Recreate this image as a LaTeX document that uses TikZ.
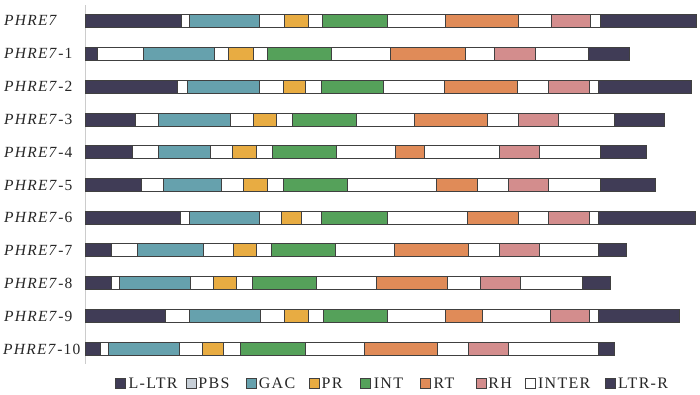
\documentclass[tikz,border=0pt]{standalone}
\usepackage{fontspec}
\setmainfont{Liberation Serif}[LetterSpace=8]
\usepackage{tikz}
\usetikzlibrary{positioning}
\definecolor{ltrcol}{HTML}{403C56}
\definecolor{pbscol}{HTML}{C8D0D8}
\definecolor{gaccol}{HTML}{66A1AD}
\definecolor{prcol}{HTML}{E8AC42}
\definecolor{intcol}{HTML}{55A15A}
\definecolor{rtcol}{HTML}{E08B58}
\definecolor{rhcol}{HTML}{D38D8D}
\tikzstyle{bar} = [draw=black!75, line width=0.8pt, fill=white]
\tikzstyle{ltr} = [bar, fill=ltrcol]
\tikzstyle{gac} = [bar, fill=gaccol]
\tikzstyle{pr} = [bar, fill=prcol]
\tikzstyle{int} = [bar, fill=intcol]
\tikzstyle{rt} = [bar, fill=rtcol]
\tikzstyle{rh} = [bar, fill=rhcol]
\tikzstyle{lbl} = [anchor=west, inner sep=0pt, text=black!85, font=\fontsize{15.5}{17}\selectfont]
\tikzstyle{keytext} = [anchor=west, inner sep=0pt, text=black!85, font=\fontsize{16}{18}\selectfont]
\tikzstyle{key} = [draw=black!75, line width=0.8pt, minimum size=10pt, inner sep=0pt]

\begin{document}
\begin{tikzpicture}[x=1pt, y=-1pt]
\useasboundingbox (0,0) rectangle (700,394);
\draw [black!20, line width=0.8pt] (85.7,5) -- (85.7,364);

\node [lbl] (l0) at (4,20.5) {\textit{PHRE7}};
\node [lbl] (l1) at (4,53.5) {\textit{PHRE7}-1};
\node [lbl] (l2) at (4,86.5) {\textit{PHRE7}-2};
\node [lbl] (l3) at (4,119.5) {\textit{PHRE7}-3};
\node [lbl] (l4) at (4,152) {\textit{PHRE7}-4};
\node [lbl] (l5) at (4,185) {\textit{PHRE7}-5};
\node [lbl] (l6) at (4,217.5) {\textit{PHRE7}-6};
\node [lbl] (l7) at (4,250) {\textit{PHRE7}-7};
\node [lbl] (l8) at (4,283) {\textit{PHRE7}-8};
\node [lbl] (l9) at (4,316) {\textit{PHRE7}-9};
\node [lbl] (l10) at (3,349) {\textit{PHRE7}-10};

\draw [bar] (85.7,14) rectangle (696.7,27);
\draw [ltr] (85.7,14) rectangle (181,27);
\draw [gac] (189,14) rectangle (259.3,27);
\draw [pr] (284.3,14) rectangle (308.3,27);
\draw [int] (322.7,14) rectangle (387.3,27);
\draw [rt] (445,14) rectangle (518.3,27);
\draw [rh] (551,14) rectangle (590.7,27);
\draw [ltr] (600,14) rectangle (696.7,27);

\draw [bar] (85.7,47) rectangle (629.3,60);
\draw [ltr] (85.7,47) rectangle (97.7,60);
\draw [gac] (143,47) rectangle (214.3,60);
\draw [pr] (228.7,47) rectangle (253.3,60);
\draw [int] (267.7,47) rectangle (331.7,60);
\draw [rt] (390,47) rectangle (465,60);
\draw [rh] (494.3,47) rectangle (535.7,60);
\draw [ltr] (588.3,47) rectangle (629.3,60);

\draw [bar] (85.7,80) rectangle (691.7,93);
\draw [ltr] (85.7,80) rectangle (177.7,93);
\draw [gac] (187.7,80) rectangle (259.3,93);
\draw [pr] (283,80) rectangle (305.7,93);
\draw [int] (321.7,80) rectangle (383.3,93);
\draw [rt] (444.3,80) rectangle (517.3,93);
\draw [rh] (548.7,80) rectangle (589.3,93);
\draw [ltr] (598.3,80) rectangle (691.7,93);

\draw [bar] (85.7,113) rectangle (664.3,126);
\draw [ltr] (85.7,113) rectangle (135,126);
\draw [gac] (158,113) rectangle (230.3,126);
\draw [pr] (253.3,113) rectangle (276.7,126);
\draw [int] (292.3,113) rectangle (356,126);
\draw [rt] (414.3,113) rectangle (487.7,126);
\draw [rh] (518.7,113) rectangle (558.7,126);
\draw [ltr] (614,113) rectangle (664.3,126);

\draw [bar] (85.7,145.5) rectangle (646,158.5);
\draw [ltr] (85.7,145.5) rectangle (132.7,158.5);
\draw [gac] (158.3,145.5) rectangle (210.7,158.5);
\draw [pr] (232.7,145.5) rectangle (256.7,158.5);
\draw [int] (272.7,145.5) rectangle (336.7,158.5);
\draw [rt] (395,145.5) rectangle (424.3,158.5);
\draw [rh] (499.3,145.5) rectangle (539.3,158.5);
\draw [ltr] (600,145.5) rectangle (646,158.5);

\draw [bar] (85.7,178.5) rectangle (655,191.5);
\draw [ltr] (85.7,178.5) rectangle (141.7,191.5);
\draw [gac] (163.3,178.5) rectangle (221,191.5);
\draw [pr] (243.3,178.5) rectangle (267.7,191.5);
\draw [int] (283.3,178.5) rectangle (347.3,191.5);
\draw [rt] (436.7,178.5) rectangle (477.3,191.5);
\draw [rh] (508.3,178.5) rectangle (548.7,191.5);
\draw [ltr] (600,178.5) rectangle (655,191.5);

\draw [bar] (85.7,211) rectangle (695,224);
\draw [ltr] (85.7,211) rectangle (180,224);
\draw [gac] (189,211) rectangle (259.3,224);
\draw [pr] (281.7,211) rectangle (301,224);
\draw [int] (321.7,211) rectangle (387.3,224);
\draw [rt] (467.3,211) rectangle (518.3,224);
\draw [rh] (548.7,211) rectangle (589,224);
\draw [ltr] (598.3,211) rectangle (695,224);

\draw [bar] (85.7,243.5) rectangle (626,256.5);
\draw [ltr] (85.7,243.5) rectangle (111.7,256.5);
\draw [gac] (137.7,243.5) rectangle (203.3,256.5);
\draw [pr] (233.3,243.5) rectangle (256.7,256.5);
\draw [int] (271.7,243.5) rectangle (335,256.5);
\draw [rt] (394,243.5) rectangle (468.3,256.5);
\draw [rh] (499.3,243.5) rectangle (539.3,256.5);
\draw [ltr] (598.3,243.5) rectangle (626,256.5);

\draw [bar] (85.7,276.5) rectangle (610,289.5);
\draw [ltr] (85.7,276.5) rectangle (111.7,289.5);
\draw [gac] (119.3,276.5) rectangle (190.7,289.5);
\draw [pr] (213.3,276.5) rectangle (236.7,289.5);
\draw [int] (252.3,276.5) rectangle (316.7,289.5);
\draw [rt] (376,276.5) rectangle (447.7,289.5);
\draw [rh] (480,276.5) rectangle (520,289.5);
\draw [ltr] (582.7,276.5) rectangle (610,289.5);

\draw [bar] (85.7,309.5) rectangle (679,322.5);
\draw [ltr] (85.7,309.5) rectangle (165,322.5);
\draw [gac] (189,309.5) rectangle (260.7,322.5);
\draw [pr] (284.3,309.5) rectangle (308.3,322.5);
\draw [int] (323.3,309.5) rectangle (387.3,322.5);
\draw [rt] (445.7,309.5) rectangle (482.7,322.5);
\draw [rh] (550,309.5) rectangle (589.3,322.5);
\draw [ltr] (598.3,309.5) rectangle (679,322.5);

\draw [bar] (85.7,342.5) rectangle (614,355.5);
\draw [ltr] (85.7,342.5) rectangle (100,355.5);
\draw [gac] (108.3,342.5) rectangle (179,355.5);
\draw [pr] (202.3,342.5) rectangle (223.3,355.5);
\draw [int] (240.7,342.5) rectangle (305,355.5);
\draw [rt] (364.3,342.5) rectangle (437.7,355.5);
\draw [rh] (468.3,342.5) rectangle (508.3,355.5);
\draw [ltr] (598.3,342.5) rectangle (614,355.5);

\node [key, fill=ltrcol] (k1) at (120,383) {};
\node [keytext] (t1) [right=3pt of k1] {L-LTR};
\node [key, fill=pbscol] (k2) at (191.3,383) {};
\node [keytext] (t2) [right=1.5pt of k2] {PBS};
\node [key, fill=gaccol] (k3) at (251.8,383) {};
\node [keytext] (t3) [right=1.5pt of k3] {GAC};
\node [key, fill=prcol] (k4) at (314.5,383) {};
\node [keytext] (t4) [right=1.5pt of k4] {PR};
\node [key, fill=intcol] (k5) at (365.8,383) {};
\node [keytext] (t5) [right=2.5pt of k5] {INT};
\node [key, fill=rtcol] (k6) at (425,383) {};
\node [keytext] (t6) [right=3pt of k6] {RT};
\node [key, fill=rhcol] (k7) at (481.8,383) {};
\node [keytext] (t7) [right=1pt of k7] {RH};
\node [key, fill=white] (k8) at (530,383) {};
\node [keytext] (t8) [right=2.5pt of k8] {INTER};
\node [key, fill=ltrcol] (k9) at (610,383) {};
\node [keytext] (t9) [right=2.5pt of k9] {LTR-R};

\end{tikzpicture}
\end{document}
